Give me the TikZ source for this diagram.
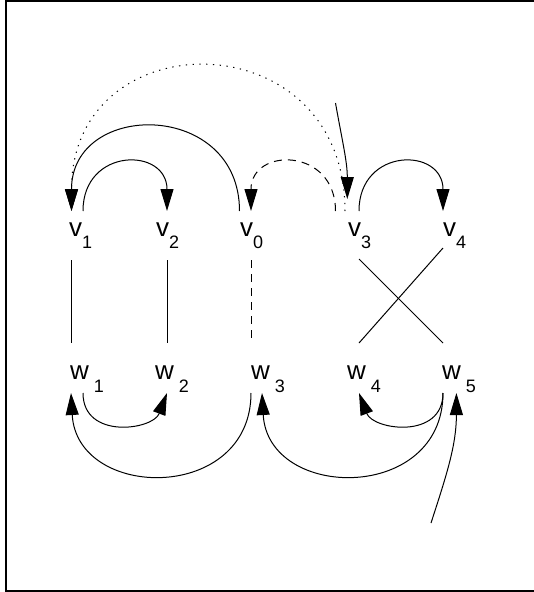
\documentclass[tikz,border=0pt]{standalone}
\usepackage{fontspec}
\setmainfont{Liberation Sans}
\usetikzlibrary{arrows.meta,calc}

\newcommand{\vsub}[1]{v\raisebox{-12pt}{\fontsize{18}{18}\selectfont #1}}
\newcommand{\wsub}[1]{w\hspace{5pt}\raisebox{-13pt}{\fontsize{18}{18}\selectfont #1}}

\begin{document}
\begin{tikzpicture}[x=1pt,y=-1pt,
  lab/.style={inner sep=0pt,anchor=base west,font=\fontsize{26}{26}\selectfont},
  arc/.style={line width=1pt,-{Triangle[length=22pt,width=13pt]}},
  tie/.style={line width=1pt},
  dsh/.style={dash pattern=on 8pt off 6pt},
  dts/.style={dash pattern=on 1.3pt off 5.5pt}]
\useasboundingbox (0,0) rectangle (534,592);
\draw[line width=2pt] (534,0.5) -- (6,0.5) -- (6,590.5) -- (534,590.5);

\node[lab] (v1) at (69,236) {\vsub{1}};
\node[lab] (v2) at (156,236) {\vsub{2}};
\node[lab] (v0) at (240,236) {\vsub{0}};
\node[lab] (v3) at (348,236) {\vsub{3}};
\node[lab] (v4) at (443,236) {\vsub{4}};
\node[lab] (w1) at (70,379) {\wsub{1}};
\node[lab] (w2) at (155,379) {\wsub{2}};
\node[lab] (w3) at (251,379) {\wsub{3}};
\node[lab] (w4) at (347,379) {\wsub{4}};
\node[lab] (w5) at (442,379) {\wsub{5}};
\coordinate (in3) at (335.5,103);
\coordinate (in5) at (431,523);

\draw[tie] ([shift={(2,24)}]v1.base west) -- ([shift={(1,-36)}]w1.base west);
\draw[tie] ([shift={(11,24)}]v2.base west) -- ([shift={(12,-36)}]w2.base west);
\draw[tie,dsh] ([shift={(11,24)}]v0.base west) -- ([shift={(0,-36)}]w3.base west);
\draw[tie] ([shift={(11,23)}]v3.base west) -- ([shift={(1,-36)}]w5.base west);
\draw[tie] ([shift={(0,12)}]v4.base west) -- ([shift={(12,-36)}]w4.base west);

\draw[arc] ([shift={(14,-25)}]v1.base west) .. controls +(0,-64) and +(0,-64) .. ([shift={(11,-25)}]v2.base west);
\draw[arc] ([shift={(-0.5,-25)}]v0.base west) .. controls +(0,-111) and +(0,-111) .. ([shift={(2.5,-25)}]v1.base west);
\draw[arc,dts] ([shift={(-3,-25)}]v3.base west) .. controls +(0,-192) and +(0,-192) .. ([shift={(2.5,-25)}]v1.base west);
\draw[arc,dsh] ([shift={(-12.5,-25)}]v3.base west) .. controls +(0,-64) and +(0,-64) .. ([shift={(11,-25)}]v0.base west);
\draw[arc] (in3) to[out=-80,in=90] ([shift={(-0.7,-37)}]v3.base west);
\draw[arc] ([shift={(11,-25)}]v3.base west) .. controls +(0,-64) and +(0,-64) .. ([shift={(0,-25)}]v4.base west);

\draw[arc] ([shift={(13,14)}]w1.base west) .. controls +(0,47) and +(-14,37) .. ([shift={(12,14)}]w2.base west);
\draw[arc] ([shift={(0,14)}]w3.base west) .. controls +(0,110) and +(6,108) .. ([shift={(1,14)}]w1.base west);
\draw[arc] ([shift={(1,14)}]w5.base west) .. controls +(0,110) and +(6,108) .. ([shift={(11,14)}]w3.base west);
\draw[arc] ([shift={(1,14)}]w5.base west) .. controls +(0,47) and +(14,37) .. ([shift={(12,14)}]w4.base west);
\draw[arc] (in5) to[out=72,in=-90] ([shift={(14.4,14)}]w5.base west);
\end{tikzpicture}
\end{document}
